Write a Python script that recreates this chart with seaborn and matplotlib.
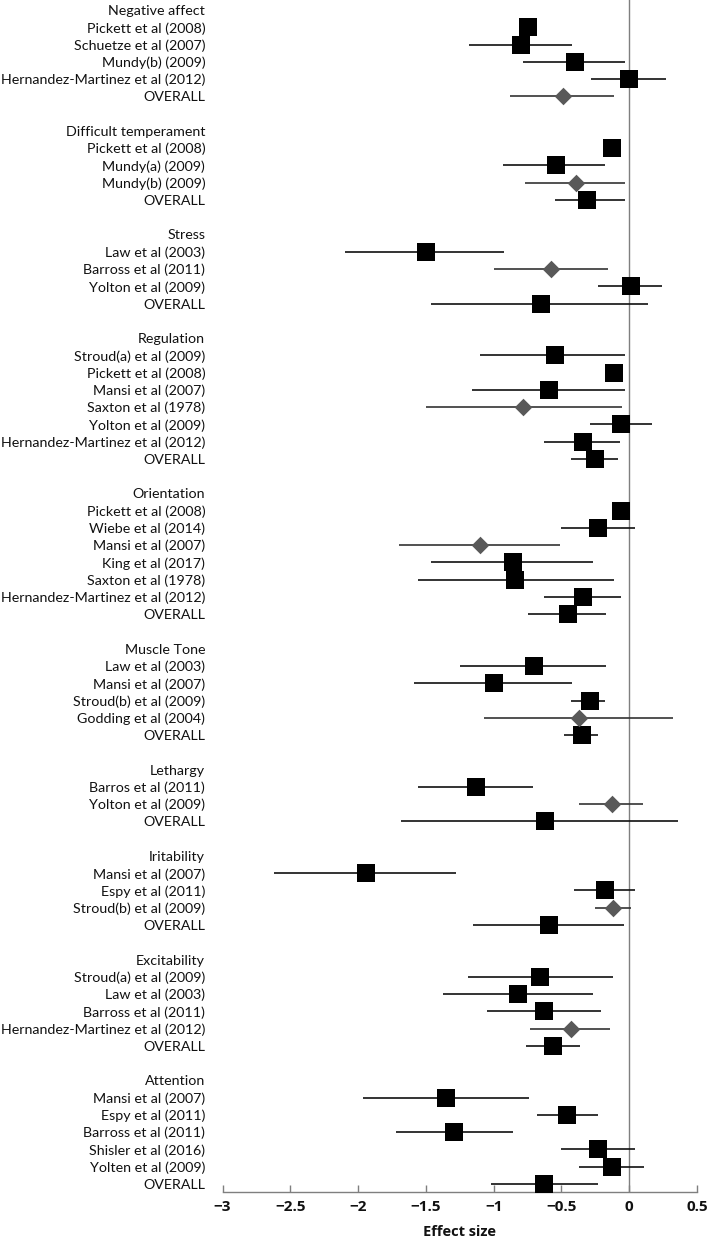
import numpy as np
import pandas as pd
import matplotlib
matplotlib.use("Agg")
import matplotlib.pyplot as plt
import seaborn as sns

# outcome groups and number of studies (incl. OVERALL) in each
groups = ["Negative affect", "Difficult temperament", "Stress", "Regulation",
          "Orientation", "Muscle Tone", "Lethargy", "Iritability",
          "Excitability", "Attention"]
group_sizes = [5, 4, 4, 7, 7, 5, 3, 4, 5, 6]

studies = [
    "Pickett et al (2008)", "Schuetze et al (2007)", "Mundy(b) (2009)",
    "Hernandez-Martinez et al (2012)", "OVERALL",
    "Pickett et al (2008)", "Mundy(a) (2009)", "Mundy(b) (2009)", "OVERALL",
    "Law et al (2003)", "Barross et al (2011)", "Yolton et al (2009)", "OVERALL",
    "Stroud(a) et al (2009)", "Pickett et al (2008)", "Mansi et al (2007)",
    "Saxton et al (1978)", "Yolton et al (2009)",
    "Hernandez-Martinez et al (2012)", "OVERALL",
    "Pickett et al (2008)", "Wiebe et al (2014)", "Mansi et al (2007)",
    "King et al (2017)", "Saxton et al (1978)",
    "Hernandez-Martinez et al (2012)", "OVERALL",
    "Law et al (2003)", "Mansi et al (2007)", "Stroud(b) et al (2009)",
    "Godding et al (2004)", "OVERALL",
    "Barros et al (2011)", "Yolton et al (2009)", "OVERALL",
    "Mansi et al (2007)", "Espy et al (2011)", "Stroud(b) et al (2009)", "OVERALL",
    "Stroud(a) et al (2009)", "Law et al (2003)", "Barross et al (2011)",
    "Hernandez-Martinez et al (2012)", "OVERALL",
    "Mansi et al (2007)", "Espy et al (2011)", "Barross et al (2011)",
    "Shisler et al (2016)", "Yolten et al (2009)", "OVERALL",
]

effect = [-0.75, -0.80, -0.40, 0.00, -0.49,
          -0.13, -0.54, -0.39, -0.31,
          -1.50, -0.58, 0.01, -0.65,
          -0.55, -0.11, -0.59, -0.78, -0.06, -0.34, -0.25,
          -0.06, -0.23, -1.10, -0.86, -0.84, -0.34, -0.45,
          -0.70, -1.00, -0.29, -0.37, -0.35,
          -1.13, -0.13, -0.62,
          -1.94, -0.18, -0.12, -0.59,
          -0.66, -0.82, -0.63, -0.43, -0.56,
          -1.35, -0.46, -1.29, -0.23, -0.13, -0.63]

ci_low = [-0.78, -1.18, -0.78, -0.28, -0.88,
          -0.16, -0.93, -0.77, -0.55,
          -2.10, -1.00, -0.23, -1.46,
          -1.10, -0.14, -1.16, -1.50, -0.29, -0.63, -0.43,
          -0.09, -0.50, -1.70, -1.46, -1.56, -0.63, -0.75,
          -1.25, -1.59, -0.43, -1.07, -0.48,
          -1.56, -0.37, -1.68,
          -2.62, -0.41, -0.25, -1.15,
          -1.19, -1.37, -1.05, -0.73, -0.76,
          -1.96, -0.68, -1.72, -0.50, -0.37, -1.02]

ci_high = [-0.72, -0.42, -0.03, 0.27, -0.11,
           -0.10, -0.18, -0.03, -0.03,
           -0.92, -0.16, 0.24, 0.14,
           -0.03, -0.08, -0.03, -0.05, 0.17, -0.07, -0.08,
           -0.03, 0.04, -0.51, -0.27, -0.11, -0.06, -0.17,
           -0.17, -0.42, -0.18, 0.32, -0.23,
           -0.71, 0.10, 0.36,
           -1.28, 0.04, 0.01, -0.04,
           -0.12, -0.27, -0.21, -0.14, -0.36,
           -0.74, -0.23, -0.86, 0.04, 0.11, -0.23]

# rows drawn as a grey diamond instead of a black square
diamond = [False, False, False, False, True,
           False, False, True, False,
           False, True, False, False,
           False, False, False, True, False, False, False,
           False, False, True, False, False, False, False,
           False, False, False, True, False,
           False, True, False,
           False, False, True, False,
           False, False, False, True, False,
           False, False, False, False, False, False]

xticks = [-3, -2.5, -2, -1.5, -1, -0.5, 0, 0.5]

# layout rows: header, studies, blank line
rows, tick_pos, tick_lab = [], [], []
r = 0
i = 0
for g, n in zip(groups, group_sizes):
    tick_pos.append(r)
    tick_lab.append(g)
    r += 1
    for _ in range(n):
        rows.append(r)
        tick_pos.append(r)
        tick_lab.append(studies[i])
        r += 1
        i += 1
    r += 1
last_row = r - 2

df = pd.DataFrame({"study": studies, "effect": effect, "lo": ci_low,
                   "hi": ci_high, "row": rows,
                   "kind": np.where(diamond, "diamond", "square")})

plt.rcParams["font.family"] = ["Lato", "DejaVu Sans"]
fig = plt.figure(figsize=(7.09, 12.45), dpi=100)
ax = fig.add_axes([222.5 / 709, 1 - 1192 / 1245, 474.5 / 709, 1192 / 1245])

# confidence intervals
for k, col in [("square", "#111111"), ("diamond", "#333333")]:
    sub = df[df["kind"] == k]
    ax.hlines(sub["row"], sub["lo"], sub["hi"], color=col, lw=1.2, zorder=2)

ax.axvline(0, color="#7f7f7f", lw=1.0, zorder=1)

sq = df[df["kind"] == "square"]
dm = df[df["kind"] == "diamond"]
sns.scatterplot(data=sq, x="effect", y="row", marker="s", s=170,
                color="black", linewidth=0, ax=ax, zorder=3)
sns.scatterplot(data=dm, x="effect", y="row", marker="D", s=80,
                color="#595959", linewidth=0, ax=ax, zorder=3)

s = 17.26
ax.set_ylim(last_row + 8 / s, -10 / s)
ax.set_xlim(-3, 0.5)
ax.set_yticks(tick_pos)
ax.set_yticklabels(tick_lab, fontsize=10.3, color="#111111")
ax.tick_params(axis="y", length=0, pad=12.5)

ax.set_xticks(xticks)
ax.set_xticklabels([f"{v:g}".replace("-", "\u2212") for v in xticks],
                   fontsize=11, fontweight="bold", color="#111111",
                   family=["Open Sans", "DejaVu Sans"])
ax.tick_params(axis="x", direction="in", length=5, width=1,
               color="#7f7f7f", pad=6)

for side in ["top", "right", "left"]:
    ax.spines[side].set_visible(False)
ax.spines["bottom"].set_color("#7f7f7f")
ax.spines["bottom"].set_linewidth(1.0)

ax.set_xlabel("Effect size", fontsize=10.5, fontweight="bold",
              color="#111111", labelpad=8, family=["Open Sans", "DejaVu Sans"])
ax.set_ylabel("")

fig.savefig("out.png", dpi=100)
